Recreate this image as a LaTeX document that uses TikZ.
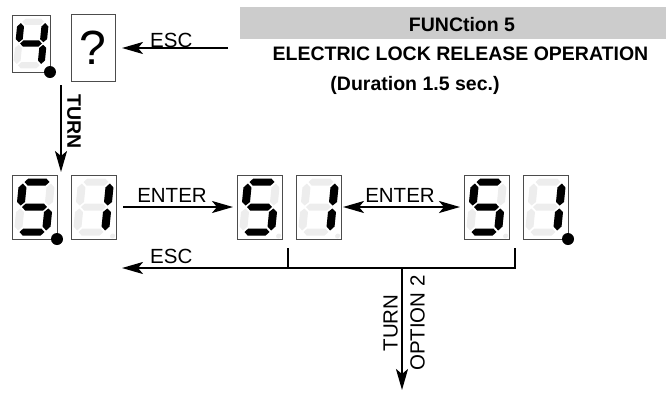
\documentclass[tikz,border=0pt]{standalone}
\usepackage{fontspec}
\setmainfont{Liberation Sans}
\usetikzlibrary{arrows.meta,positioning}
\definecolor{segoffc}{gray}{0.93}
\definecolor{barc}{gray}{0.8}
% one segment of a seven-segment digit (y grows downwards)
\newcommand{\dseg}[2]{%
  \if#1a\fill[#2] (-12.5,-25) -- (-9,-28.5) -- (9,-28.5) -- (12.5,-25) -- (9,-21.5) -- (-9,-21.5) -- cycle;\fi
  \if#1g\fill[#2] (-12.5,0) -- (-9,-3.5) -- (9,-3.5) -- (12.5,0) -- (9,3.5) -- (-9,3.5) -- cycle;\fi
  \if#1d\fill[#2] (-12.5,25) -- (-9,21.5) -- (9,21.5) -- (12.5,25) -- (9,28.5) -- (-9,28.5) -- cycle;\fi
  \if#1f\fill[#2] (-14,-23.5) -- (-10,-19.5) -- (-10,-5) -- (-14,-1.5) -- (-18,-5) -- (-18,-19.5) -- cycle;\fi
  \if#1b\fill[#2] (14,-23.5) -- (18,-19.5) -- (18,-5) -- (14,-1.5) -- (10,-5) -- (10,-19.5) -- cycle;\fi
  \if#1e\fill[#2] (-14,1.5) -- (-10,5) -- (-10,19.5) -- (-14,23.5) -- (-18,19.5) -- (-18,5) -- cycle;\fi
  \if#1c\fill[#2] (14,1.5) -- (18,5) -- (18,19.5) -- (14,23.5) -- (10,19.5) -- (10,5) -- cycle;\fi
}
\newcommand{\segdigit}[3]{%
  \begin{scope}[shift={(#1.center)},scale=#2,xslant=0.1]
    \foreach \s in {a,b,c,d,e,f,g} {\dseg{\s}{segoffc}}
    \fill[segoffc] (22,29) circle (2.5pt);
    \foreach \s in {#3} {\dseg{\s}{black}}
  \end{scope}
}

\begin{document}
\begin{tikzpicture}[x=1pt,y=-1pt,>={Stealth[length=21pt,width=12pt,inset=5pt]},
    every node/.style={font=\fontsize{20.5}{24}\selectfont,inner sep=0pt},
    disp/.style={draw=black!70,line width=0.8pt,minimum width=45pt,minimum height=64pt,outer sep=0pt},
    link/.style={line width=2.2pt},
    hdr/.style={font=\fontsize{19.5}{23}\selectfont\bfseries}]
  \useasboundingbox (0,0) rectangle (666,392);
  % title
  \fill[barc] (240,7) rectangle (666,39);
  \node[hdr,anchor=base] (fn) at (462,31.5) {FUNCtion 5};
  \node[hdr,anchor=base] (el) at (460.5,60) {ELECTRIC LOCK RELEASE OPERATION};
  \node[hdr,anchor=base] (du) at (415,90) {(Duration 1.5 sec.)};
  % displays
  \node[disp,minimum width=38pt,minimum height=57pt] (d4) at (31,43.5) {};
  \node[disp,minimum width=44pt,minimum height=67pt] (qm) at (93,47.5) {\fontsize{48}{50}\selectfont ?};
  \node[disp] (s1) at (34.5,207) {};
  \node[disp,right=14pt of s1] (o1) {};
  \node[disp,right=121pt of o1] (s2) {};
  \node[disp,right=14pt of s2] (o2) {};
  \node[disp,right=123pt of o2] (s3) {};
  \node[disp,right=14pt of s3] (o3) {};
  \segdigit{d4}{0.87}{b,c,f,g}
  \segdigit{s1}{1}{a,c,d,f,g}
  \segdigit{o1}{1}{b,c}
  \segdigit{s2}{1}{a,c,d,f,g}
  \segdigit{o2}{1}{b,c}
  \segdigit{s3}{1}{a,c,d,f,g}
  \segdigit{o3}{1}{b,c}
  \fill (d4.south east) circle (6pt);
  \fill (s1.south east) circle (6pt);
  \fill (o3.south east) circle (6pt);
  % top connectors
  \coordinate (e0) at (228,48);
  \draw[link,->,shorten >=7pt] (e0) -- (qm.east |- e0);
  \node[anchor=base west] (esc0) at (150,47) {ESC};
  \coordinate (t0) at (61,85);
  \draw[link,->,shorten >=3pt] (t0) -- (t0 |- s1.north);
  \node[hdr,rotate=-90,anchor=south] (turn0) at (67,122) {TURN};
  % enter
  \draw[link,->,shorten <=7pt,shorten >=4pt] (o1.east) -- (s2.west);
  \node[anchor=base] (en1) at (172,202) {ENTER};
  \draw[link,<->,shorten <=2pt,shorten >=4pt] (o2.east) -- (s3.west);
  \node[anchor=base] (en2) at (400,202) {ENTER};
  % esc and turn at the bottom
  \coordinate (k1) at (288,248);
  \coordinate (k2) at (515,248);
  \coordinate (e1) at (122,268);
  \coordinate (m1) at (402,268);
  \coordinate (dn) at (402,390);
  \draw[link,->] (k2) -- (k2 |- e1) -- (e1);
  \draw[link] (k1) -- (k1 |- e1);
  \draw[link,->] (m1) -- (dn);
  \node[anchor=base west] (esc1) at (150,263) {ESC};
  \node[rotate=90,anchor=south] (turn1) at (398,323) {TURN};
  \node[rotate=90,anchor=north] (opt) at (410,323) {OPTION 2};
\end{tikzpicture}
\end{document}
